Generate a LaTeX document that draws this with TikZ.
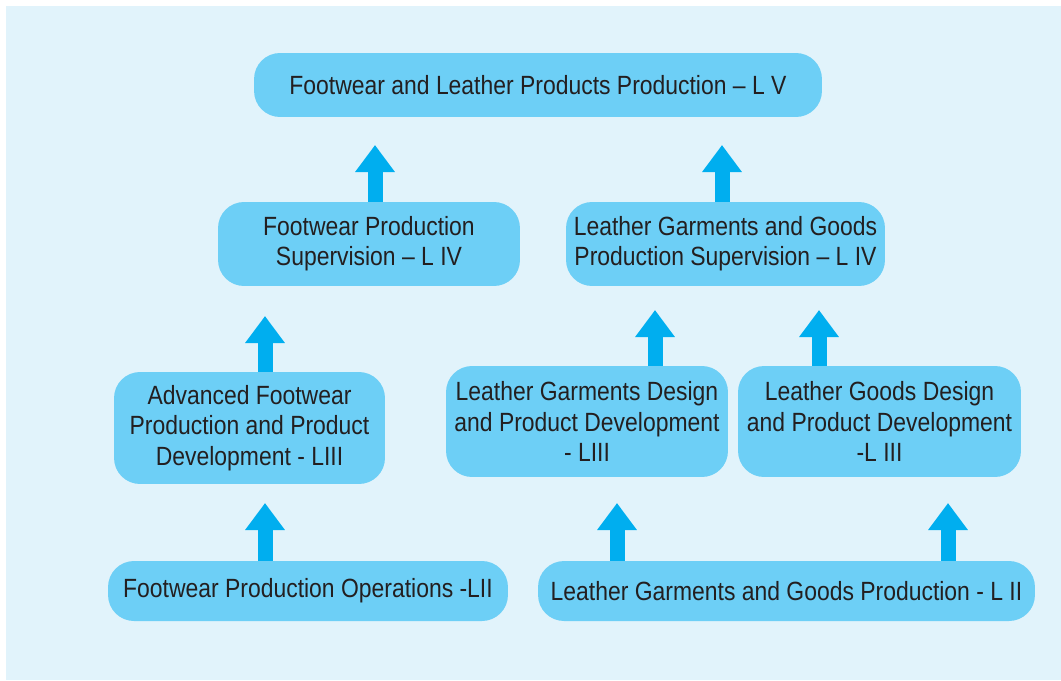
\documentclass[tikz,border=0pt]{standalone}
\usepackage{fontspec}
\setmainfont[FakeStretch=0.87]{Liberation Sans}
\usetikzlibrary{arrows.meta}
\definecolor{pagebg}{HTML}{E1F3FB}
\definecolor{boxfill}{HTML}{6DCFF6}
\definecolor{arrowblue}{HTML}{00AEEF}
\definecolor{inkgray}{HTML}{231F20}
\tikzset{
  level/.style={fill=boxfill, rounded corners=0.52cm, align=center, text=inkgray,
    font=\fontsize{15}{17.2}\selectfont, inner sep=0pt},
  uparrow/.style={draw=arrowblue, line width=0.3cm,
    -{Triangle[width=0.76cm,length=0.54cm]}}
}
\begin{document}
\begin{tikzpicture}[x=0.02cm,y=-0.02cm]
  \useasboundingbox (0,0) rectangle (1061,680);
  \fill[pagebg] (6,6) rectangle (1061,680);
  % levels
  \node[level, minimum width=11.36cm, minimum height=1.28cm] (lv) at (538,85)
    {Footwear and Leather Products Production -- L V};
  \node[level, minimum width=6.04cm, minimum height=1.68cm] (fps) at (369,244)
    {Footwear Production\\Supervision -- L IV};
  \node[level, minimum width=6.38cm, minimum height=1.68cm] (lgps) at (725.5,244)
    {Leather Garments and Goods\\Production Supervision -- L IV};
  \node[level, minimum width=5.42cm, minimum height=2.24cm] (afp) at (249.5,428)
    {Advanced Footwear\\Production and Product\\Development - LIII};
  \node[level, minimum width=5.64cm, minimum height=2.22cm] (lgd) at (587,421.5)
    {Leather Garments Design\\and Product Development\\- LIII};
  \node[level, minimum width=5.66cm, minimum height=2.22cm] (lgdd) at (879.5,421.5)
    {Leather Goods Design\\and Product Development\\-L III};
  \node[level, minimum width=8cm, minimum height=1.2cm] (fpo) at (308,591)
    {Footwear Production Operations -LII};
  \node[level, minimum width=9.94cm, minimum height=1.2cm] (lggp) at (786.5,591)
    {Leather Garments and Goods Production - L II};
  % arrow tips
  \coordinate (t1) at (375,145);
  \coordinate (t2) at (722,145);
  \coordinate (t3) at (265,316);
  \coordinate (t4) at (655,310);
  \coordinate (t5) at (819,310);
  \coordinate (t6) at (265,503);
  \coordinate (t7) at (617,503);
  \coordinate (t8) at (948,503);
  \begin{scope}[uparrow]
    \draw (fps.north -| t1) -- (t1);
    \draw (lgps.north -| t2) -- (t2);
    \draw (afp.north -| t3) -- (t3);
    \draw (lgd.north -| t4) -- (t4);
    \draw (lgdd.north -| t5) -- (t5);
    \draw (fpo.north -| t6) -- (t6);
    \draw (lggp.north -| t7) -- (t7);
    \draw (lggp.north -| t8) -- (t8);
  \end{scope}
\end{tikzpicture}
\end{document}
